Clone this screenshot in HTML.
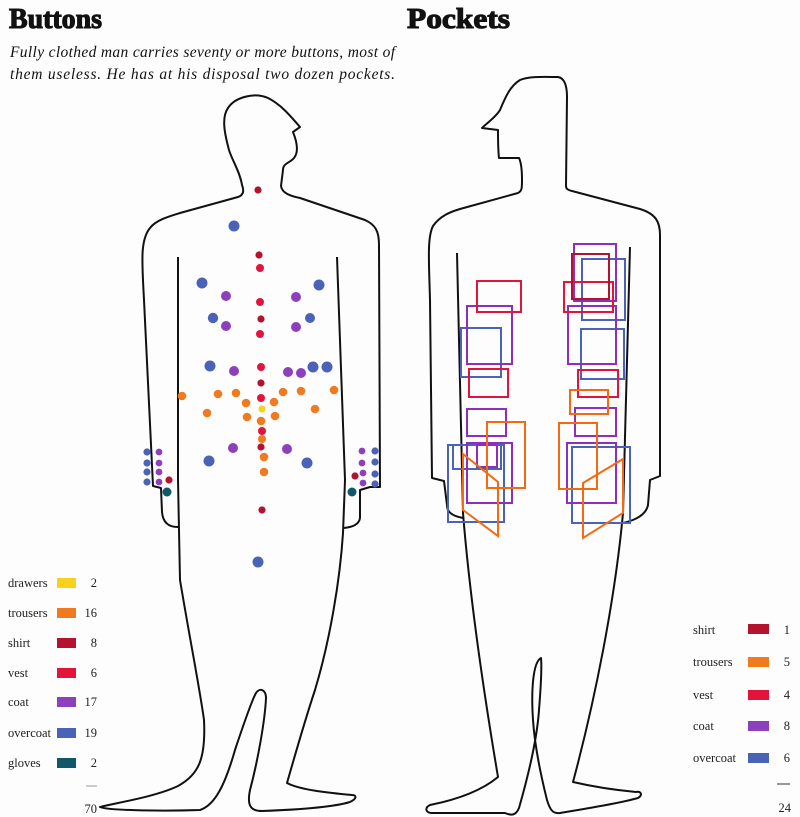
<!DOCTYPE html>
<html><head><meta charset="utf-8"><style>
html,body{margin:0;padding:0;background:#fff;}
svg{display:block;}
text{font-family:"Liberation Serif",serif;fill:#222;}
.t{font-weight:700;fill:#111;stroke:#111;stroke-width:1.1;}
</style></head><body>
<svg width="800" height="817" viewBox="0 0 800 817" xmlns="http://www.w3.org/2000/svg">
<rect width="800" height="817" fill="#fefdfe"/>
<text class="t" x="9" y="28" font-size="28" textLength="93" lengthAdjust="spacingAndGlyphs">Buttons</text>
<text class="t" x="407" y="28" font-size="28" textLength="103" lengthAdjust="spacingAndGlyphs">Pockets</text>
<text x="10" y="57" font-size="15.5" font-style="italic" style="fill:#111" textLength="385" lengthAdjust="spacing">Fully clothed man carries seventy or more buttons, most of</text>
<text x="10" y="79" font-size="15.5" font-style="italic" style="fill:#111" textLength="385" lengthAdjust="spacing">them useless. He has at his disposal two dozen pockets.</text>

<g fill="none" stroke="#111" stroke-width="2" stroke-linejoin="round">
<path d="M178,527 C170,527 163,524 162,512 L161,488 L153,486 L144,300 C142,262 140,240 150,228 C156,220 170,216 180,213 L238,197 C244,195 244,190 242,185 C240,172 232,160 229,150 C225,135 221,118 228,108 C235,97 255,92 268,98 C282,105 292,118 300,127 L293,132 C297,142 299,152 294,158 C290,163 283,163 283,170 L281,186 C282,193 290,196 300,198 L365,220 C376,225 379,232 379,245 L380,487 L370,487 L360,490 L360,518 C359,525 352,527 344,528"/>
<path d="M178,257 L178,480 L180,580 C190,640 200,690 204,720 C206,760 198,775 178,786 C155,797 115,803 100,807 C110,811 170,811 200,810 C215,805 225,785 235,750 C245,720 252,700 256,693 C260,687 266,690 266,698 C265,720 258,760 250,790 C247,805 250,811 262,811 C290,810 330,808 350,802 C358,798 356,795 352,795 C330,793 300,790 287,783 C295,755 305,720 315,690 C330,640 340,580 343,533 L345,480 L337,257"/>
<path d="M463,518 C452,516 447,512 447,505 L444,481 L432,478 L430,300 C429,262 427,238 433,226 C440,216 450,212 460,209 L518,193 C522,191 522,188 522,180 C522,170 521,162 519,158 L499,158 C498,150 498,138 498,130 L482,128 C488,122 496,117 500,110 C505,98 510,86 520,80 C530,76 545,77 558,77 C564,78 567,85 567,97 L566,186 C566,189 568,190 572,191 L640,209 C656,214 660,222 660,235 L660,476 L650,480 L648,505 C646,515 636,520 623,523"/>
<path d="M457,253 L463,513 C470,600 485,700 498,777 C480,792 455,800 430,805 C424,808 426,813 432,813 L505,813 C512,816 516,815 519,808 C527,780 537,740 539,710 C541,685 542,668 541,658 C533,662 531,690 533,720 C535,750 542,780 547,800 C550,810 553,814 560,813 C590,808 620,803 638,798 C643,795 641,791 636,792 C615,790 590,786 573,782 C595,700 615,600 623,513 L630,247"/>
</g>

<g>
<g fill="#b3132f">
<circle cx="258" cy="190" r="3.6"/><circle cx="259" cy="255" r="3.6"/><circle cx="261" cy="319" r="3.6"/><circle cx="261" cy="383" r="3.6"/><circle cx="261" cy="447" r="3.6"/><circle cx="262" cy="510" r="3.6"/><circle cx="169" cy="480" r="3.6"/><circle cx="355" cy="476" r="3.6"/>
</g>
<g fill="#e3143c">
<circle cx="260" cy="268" r="4"/><circle cx="260" cy="302" r="4"/><circle cx="260" cy="334" r="4"/><circle cx="261" cy="367" r="4"/><circle cx="261" cy="398" r="4"/><circle cx="262" cy="431" r="4"/>
</g>
<circle cx="262" cy="409" r="3.5" fill="#f9d01a"/>
<g fill="#4a63b8">
<circle cx="234" cy="226" r="5.5"/><circle cx="202" cy="283" r="5.5"/><circle cx="319" cy="285" r="5.5"/><circle cx="213" cy="318" r="5.2"/><circle cx="310" cy="318" r="5"/><circle cx="210" cy="366" r="5.5"/><circle cx="313" cy="367" r="5.5"/><circle cx="327" cy="367" r="5.5"/><circle cx="209" cy="461" r="5.5"/><circle cx="307" cy="463" r="5.5"/><circle cx="258" cy="562" r="5.5"/>
<circle cx="147" cy="452" r="3.6"/><circle cx="147" cy="463" r="3.6"/><circle cx="147" cy="472" r="3.6"/><circle cx="147" cy="482" r="3.6"/>
<circle cx="375" cy="451" r="3.6"/><circle cx="375" cy="462" r="3.6"/><circle cx="375" cy="474" r="3.6"/><circle cx="375" cy="484" r="3.6"/>
</g>
<g fill="#8e3fbb">
<circle cx="226" cy="296" r="5"/><circle cx="296" cy="297" r="5"/><circle cx="226" cy="326" r="5"/><circle cx="296" cy="327" r="5"/><circle cx="234" cy="371" r="5"/><circle cx="288" cy="372" r="5"/><circle cx="301" cy="373" r="5"/><circle cx="233" cy="448" r="5"/><circle cx="287" cy="449" r="5"/>
<circle cx="159" cy="452" r="3.4"/><circle cx="159" cy="463" r="3.4"/><circle cx="159" cy="472" r="3.4"/><circle cx="159" cy="482" r="3.4"/>
<circle cx="362" cy="451" r="3.4"/><circle cx="362" cy="463" r="3.4"/><circle cx="363" cy="473" r="3.4"/><circle cx="363" cy="483" r="3.4"/>
</g>
<g fill="#f07a1e">
<circle cx="182" cy="396" r="4.3"/><circle cx="218" cy="394" r="4.3"/><circle cx="236" cy="393" r="4.3"/><circle cx="283" cy="392" r="4.3"/><circle cx="301" cy="391" r="4.3"/><circle cx="334" cy="390" r="4.3"/><circle cx="246" cy="403" r="4.3"/><circle cx="274" cy="402" r="4.3"/><circle cx="207" cy="413" r="4.3"/><circle cx="315" cy="409" r="4.3"/><circle cx="247" cy="417" r="4.3"/><circle cx="275" cy="416" r="4.3"/><circle cx="261" cy="421" r="4.3"/><circle cx="262" cy="439" r="4"/><circle cx="264" cy="457" r="4.3"/><circle cx="264" cy="472" r="4.3"/>
</g>
<g fill="#0e5868"><circle cx="167" cy="492" r="4.5"/><circle cx="352" cy="492" r="4.5"/></g>
</g>

<g fill="none" stroke-width="2">
<g stroke="#4a63b8">
<rect x="461" y="328" width="40" height="49"/><rect x="448" y="445" width="56" height="77"/><rect x="453" y="445" width="48" height="24"/>
<rect x="582" y="259" width="43" height="61"/><rect x="581" y="329" width="43" height="50"/><rect x="572" y="447" width="58" height="76"/>
</g>
<g stroke="#8e2fbb">
<rect x="467" y="306" width="45" height="58"/><rect x="467" y="409" width="39" height="27"/><rect x="467" y="443" width="45" height="60"/><rect x="477" y="445" width="20" height="22"/>
<rect x="574" y="244" width="42" height="57"/><rect x="568" y="306" width="48" height="58"/><rect x="575" y="408" width="41" height="28"/><rect x="567" y="443" width="49" height="60"/>
</g>
<g stroke="#e3143c">
<rect x="477" y="281" width="44" height="31"/><rect x="469" y="369" width="39" height="28"/>
<rect x="564" y="282" width="49" height="30"/><rect x="578" y="370" width="40" height="27"/>
</g>
<rect x="572" y="254" width="37" height="45" stroke="#b3132f"/>
<g stroke="#f56a10">
<rect x="487" y="422" width="38" height="66"/><polygon points="463,454 498,482 498,536 463,510"/>
<rect x="570" y="390" width="38" height="24"/><rect x="559" y="423" width="38" height="66"/><polygon points="583,483 623,459 623,513 583,538"/>
</g>
</g>

<g font-size="12.5">
<text x="8" y="587">drawers</text><rect x="57" y="578" width="19" height="10" fill="#f9d01a"/><text x="97" y="587" text-anchor="end">2</text>
<text x="8" y="617">trousers</text><rect x="57" y="608" width="19" height="10" fill="#f07a1e"/><text x="97" y="617" text-anchor="end">16</text>
<text x="8" y="647">shirt</text><rect x="57" y="638" width="19" height="10" fill="#b3132f"/><text x="97" y="647" text-anchor="end">8</text>
<text x="8" y="677">vest</text><rect x="57" y="668" width="19" height="10" fill="#e3143c"/><text x="97" y="677" text-anchor="end">6</text>
<text x="8" y="706">coat</text><rect x="57" y="697" width="19" height="10" fill="#8e3fbb"/><text x="97" y="706" text-anchor="end">17</text>
<text x="8" y="737">overcoat</text><rect x="57" y="728" width="19" height="10" fill="#4a63b8"/><text x="97" y="737" text-anchor="end">19</text>
<text x="8" y="767">gloves</text><rect x="57" y="758" width="19" height="10" fill="#0e5868"/><text x="97" y="767" text-anchor="end">2</text>
<line x1="86" y1="786" x2="97" y2="786" stroke="#999" stroke-width="1"/>
<text x="97" y="813" text-anchor="end">70</text>
</g>
<g font-size="12.5">
<text x="693" y="634">shirt</text><rect x="748" y="624" width="21" height="10" fill="#b3132f"/><text x="790" y="634" text-anchor="end">1</text>
<text x="693" y="666">trousers</text><rect x="748" y="657" width="21" height="10" fill="#f07a1e"/><text x="790" y="666" text-anchor="end">5</text>
<text x="693" y="699">vest</text><rect x="748" y="690" width="21" height="10" fill="#e3143c"/><text x="790" y="699" text-anchor="end">4</text>
<text x="693" y="730">coat</text><rect x="748" y="721" width="21" height="10" fill="#8e3fbb"/><text x="790" y="730" text-anchor="end">8</text>
<text x="693" y="762">overcoat</text><rect x="748" y="753" width="21" height="10" fill="#4a63b8"/><text x="790" y="762" text-anchor="end">6</text>
<line x1="777" y1="784" x2="790" y2="784" stroke="#333" stroke-width="1"/>
<text x="791" y="812" text-anchor="end">24</text>
</g>
</svg>
</body></html>
